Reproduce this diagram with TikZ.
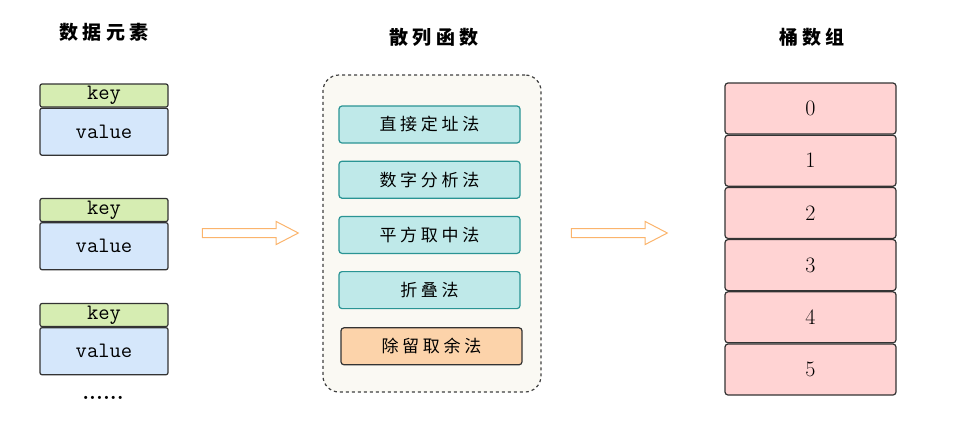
\documentclass[tikz,border=0pt]{standalone}
\usepackage{fontspec}
\usepackage{tikz}
\usetikzlibrary{positioning, shapes.arrows}
\newfontfamily\cjk{Noto Sans CJK SC}[LetterSpace=22]
\definecolor{keygreen}{HTML}{D6EDB2}
\definecolor{valblue}{HTML}{D5E7FB}
\definecolor{fnfill}{HTML}{BFE9E9}
\definecolor{fnline}{HTML}{2A9494}
\definecolor{remfill}{HTML}{FCD3AA}
\definecolor{bktfill}{HTML}{FFD3D3}
\definecolor{boxfill}{HTML}{FAF9F3}
\definecolor{arrowline}{HTML}{FBB46C}

\begin{document}
\begin{tikzpicture}[x=1pt, y=-1pt, line width=1.2pt,
  title/.style={font=\cjk\bfseries\fontsize{19}{21}\selectfont},
  keybox/.style={draw=black!80, rounded corners=2pt, fill=keygreen, inner sep=0pt,
    minimum width=128pt, minimum height=23pt, font=\fontsize{22}{24}\selectfont\ttfamily},
  valbox/.style={keybox, fill=valblue, minimum height=47pt},
  fnbox/.style={draw=fnline, rounded corners=3pt, fill=fnfill, inner sep=0pt,
    minimum width=181pt, minimum height=37pt, font=\cjk\fontsize{17}{19}\selectfont},
  bucket/.style={draw=black!80, rounded corners=3pt, fill=bktfill, inner sep=0pt,
    minimum width=171pt, minimum height=51pt, font=\fontsize{22}{24}\selectfont},
  fat/.style={single arrow, draw=arrowline, fill=white, line width=1pt,
    inner xsep=0pt, inner ysep=4pt, minimum height=96pt,
    single arrow head extend=7pt, single arrow tip angle=55}]
\useasboundingbox (0,0) rectangle (963,432);
% ---------------- data elements (left) ----------------
\node[title] (tElem) at (104,32) {数据元素};
\node[keybox] (key1) at (104,95.5) {key};
\node[valbox, below=0pt of key1] (val1) {value};
\node[keybox] (key2) at (104,210) {key};
\node[valbox, below=0pt of key2] (val2) {value};
\node[keybox] (key3) at (104,315) {key};
\node[valbox, below=0pt of key3] (val3) {value};
\node[font=\bfseries\fontsize{22}{24}\selectfont] (more) at (103,398) {......};
% ---------------- hash functions (middle) ----------------
\node[title] (tHash) at (434,37) {散列函数};
\node[draw=black!75, dashed, rounded corners=16pt, fill=boxfill,
      minimum width=218pt, minimum height=317pt] (hashbox) at (432,233.5) {};
\node[fnbox] (direct) at (429.5,124.5) {直接定址法};
\node[fnbox, below=17pt of direct] (digit) {数字分析法};
\node[fnbox, below=17pt of digit] (square) {平方取中法};
\node[fnbox, below=17pt of square] (fold) {折叠法};
\node[fnbox, draw=black!80, fill=remfill, below=18pt of fold, xshift=2pt] (remain) {除留取余法};
% ---------------- bucket array (right) ----------------
\node[title] (tBucket) at (812,37) {桶数组};
\node[bucket] (b0) at (810.5,108.5) {0};
\foreach \i [remember=\i as \last (initially 0)] in {1,...,5}
  \node[bucket, below=0pt of b\last] (b\i) {\i};
% arrows between the groups
\node[fat] (arrowA) at (246,233) {};
\node[fat] (arrowB) at (615,233) {};
\end{tikzpicture}
\end{document}
